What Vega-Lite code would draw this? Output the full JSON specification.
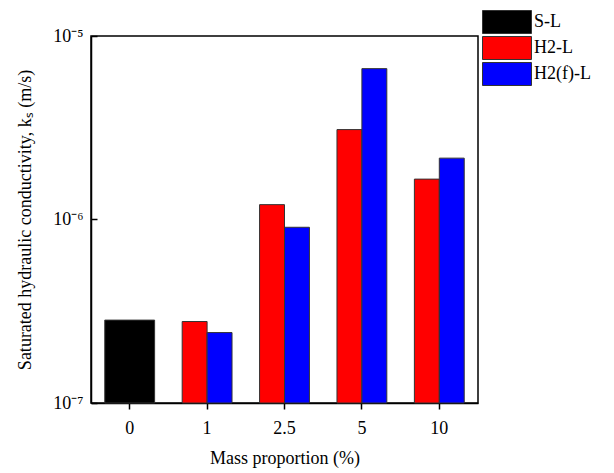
{
  "$schema": "https://vega.github.io/schema/vega-lite/v6.json",
  "width": 387,
  "height": 367,
  "autosize": {"type": "none"},
  "padding": {"left": 91, "top": 36, "right": 136, "bottom": 70},
  "config": {
    "font": "Liberation Serif",
    "view": {"stroke": "#000000", "strokeWidth": 1.5},
    "axis": {"grid": false, "domainColor": "#000000", "domainWidth": 1.5, "tickColor": "#000000", "tickWidth": 1.5, "labelFont": "Liberation Serif", "titleFont": "Liberation Serif", "labelFontSize": 18, "titleFontSize": 18, "labelColor": "#000000", "titleColor": "#000000", "titleFontWeight": "normal"},
    "legend": {"labelFont": "Liberation Serif", "labelFontSize": 18, "labelColor": "#000000"}
  },
  "datasets": {
    "bars": [
      {"proportion": "0", "series": "S-L", "ks": 2.83e-7},
      {"proportion": "1", "series": "H2-L", "ks": 2.78e-7},
      {"proportion": "1", "series": "H2(f)-L", "ks": 2.42e-7},
      {"proportion": "2.5", "series": "H2-L", "ks": 1.205e-6},
      {"proportion": "2.5", "series": "H2(f)-L", "ks": 9.07e-7},
      {"proportion": "5", "series": "H2-L", "ks": 3.09e-6},
      {"proportion": "5", "series": "H2(f)-L", "ks": 6.64e-6},
      {"proportion": "10", "series": "H2-L", "ks": 1.66e-6},
      {"proportion": "10", "series": "H2(f)-L", "ks": 2.16e-6}
    ]
  },
  "data": {"name": "bars"},
  "encoding": {
    "x": {
      "field": "proportion", "type": "ordinal", "sort": ["0", "1", "2.5", "5", "10"],
      "scale": {"paddingInner": 0.356, "paddingOuter": 0.178},
      "axis": {"title": "Mass proportion (%)", "labelAngle": 0, "tickSize": 6, "labelPadding": 10, "titlePadding": 12, "domain": true}
    },
    "y": {
      "field": "ks", "type": "quantitative",
      "scale": {"type": "log", "domain": [1e-7, 1e-5], "nice": false},
      "axis": {
        "title": "Saturated hydraulic conductivity, kₛ (m/s)",
        "values": [1e-7, 1e-6, 1e-5],
        "labelExpr": "datum.value < 5e-7 ? '10⁻⁷' : datum.value < 5e-6 ? '10⁻⁶' : '10⁻⁵'",
        "tickSize": -6, "labelPadding": 14, "titlePadding": 18
      }
    },
    "y2": {"datum": 1e-7},
    "color": {
      "field": "series", "type": "nominal",
      "scale": {"domain": ["S-L", "H2-L", "H2(f)-L"], "range": ["#000000", "#ff0000", "#0000ff"]},
      "legend": {
        "title": null, "orient": "none", "legendX": 404, "legendY": -26,
        "padding": 0, "symbolType": "M-2.13,-1h4.26v2h-4.26Z", "symbolSize": 529,
        "symbolStrokeColor": "#333333", "symbolStrokeWidth": 1, "symbolOpacity": 1,
        "labelOffset": 15, "rowPadding": -2
      }
    }
  },
  "layer": [
    {
      "transform": [{"filter": "datum.series == 'S-L'"}],
      "mark": {"type": "bar", "stroke": "#333333", "strokeWidth": 1}
    },
    {
      "transform": [{"filter": "datum.series != 'S-L'"}],
      "mark": {"type": "bar", "stroke": "#333333", "strokeWidth": 1},
      "encoding": {
        "xOffset": {"field": "series", "type": "nominal", "scale": {"domain": ["H2-L", "H2(f)-L"], "paddingInner": 0, "paddingOuter": 0}}
      }
    }
  ]
}
